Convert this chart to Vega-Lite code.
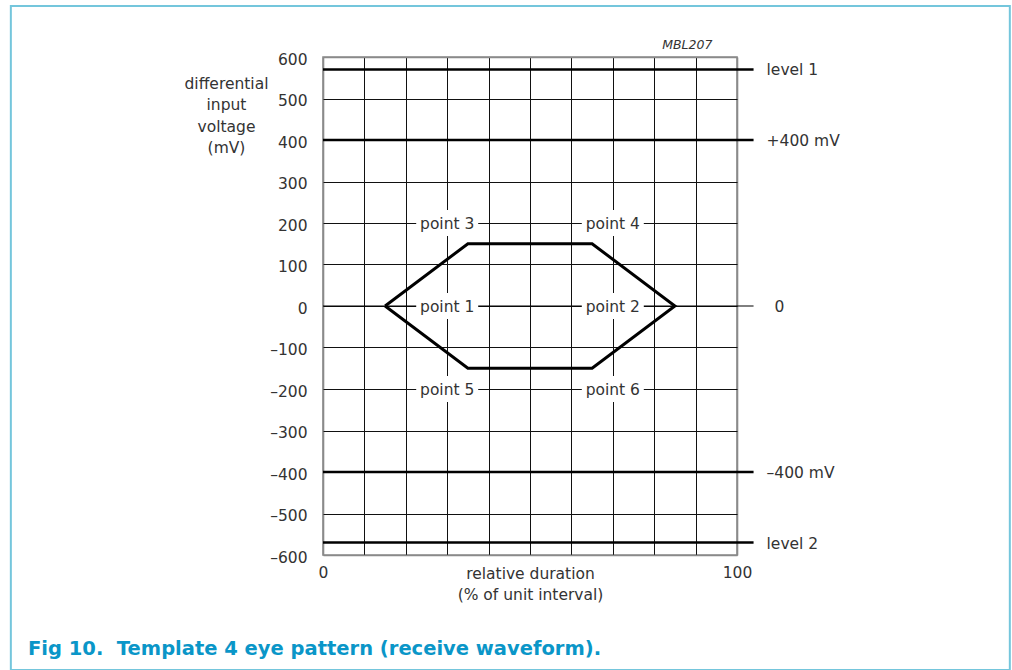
{
  "$schema": "https://vega.github.io/schema/vega-lite/v6.json",
  "width": 414,
  "height": 498,
  "autosize": {"type": "none"},
  "padding": {"left": 323, "top": 57, "right": 275, "bottom": 115},
  "background": "white",
  "config": {
    "view": {"stroke": "#8a8a8a", "strokeWidth": 1.6},
    "font": "DejaVu Sans",
    "text": {"font": "DejaVu Sans", "color": "#333"}
  },
  "title": {
    "text": "Fig 10.\u00a0 Template 4 eye pattern (receive waveform).",
    "orient": "bottom",
    "anchor": "start",
    "frame": "group",
    "dx": -295,
    "offset": -31,
    "fontSize": 19.5,
    "fontWeight": "bold",
    "font": "DejaVu Sans",
    "color": "#0a96c8"
  },
  "datasets": {
    "levels": [
      {"v": 570, "label": "level 1"},
      {"v": 400, "label": "+400 mV"},
      {"v": 0, "label": "0"},
      {"v": -400, "label": "–400 mV"},
      {"v": -570, "label": "level 2"}
    ],
    "hex": [
      {"i": 1, "x": 15, "y": 0},
      {"i": 2, "x": 35, "y": 150},
      {"i": 3, "x": 65, "y": 150},
      {"i": 4, "x": 85, "y": 0},
      {"i": 5, "x": 65, "y": -150},
      {"i": 6, "x": 35, "y": -150},
      {"i": 7, "x": 15, "y": 0}
    ],
    "points": [
      {"x": 30, "y": 200, "label": "point 3"},
      {"x": 70, "y": 200, "label": "point 4"},
      {"x": 30, "y": 0, "label": "point 1"},
      {"x": 70, "y": 0, "label": "point 2"},
      {"x": 30, "y": -200, "label": "point 5"},
      {"x": 70, "y": -200, "label": "point 6"}
    ],
    "ids": [{"id": "MBL207"}]
  },
  "layer": [
    {
      "data": {"name": "hex"},
      "mark": {"type": "line", "stroke": "black", "strokeWidth": 3},
      "encoding": {
        "x": {
          "field": "x", "type": "quantitative",
          "scale": {"domain": [0, 100], "nice": false, "zero": false},
          "axis": {
            "values": [0, 10, 20, 30, 40, 50, 60, 70, 80, 90, 100],
            "labelExpr": "datum.value == 0 || datum.value == 100 ? datum.label : ''",
            "labelFlush": false,
            "labelOverlap": false,
            "labelFontSize": 15.5,
            "labelColor": "#333",
            "labelFont": "DejaVu Sans",
            "labelPadding": 10,
            "ticks": false,
            "domain": false,
            "grid": true,
            "gridColor": {"condition": {"test": "datum.value == 0 || datum.value == 100", "value": "#8a8a8a"}, "value": "#111"},
            "gridWidth": {"condition": {"test": "datum.value == 0 || datum.value == 100", "value": 1.6}, "value": 1},
            "gridOpacity": 1,
            "title": ["relative duration", "(% of unit interval)"],
            "titleFont": "DejaVu Sans",
            "titleFontSize": 15.5,
            "titleFontWeight": "normal",
            "titleColor": "#333",
            "titleAlign": "center",
            "titleBaseline": "top",
            "titleX": 207,
            "titleY": 11,
            "titleLineHeight": 21
          }
        },
        "y": {
          "field": "y", "type": "quantitative",
          "scale": {"domain": [-600, 600], "nice": false, "zero": false},
          "axis": {
            "values": [-600, -500, -400, -300, -200, -100, 0, 100, 200, 300, 400, 500, 600],
            "labelExpr": "datum.value < 0 ? '–' + abs(datum.value) : '' + datum.value",
            "labelFontSize": 15.5,
            "labelColor": "#333",
            "labelFont": "DejaVu Sans",
            "labelPadding": 16,
            "labelOffset": 2,
            "ticks": false,
            "domain": false,
            "grid": true,
            "gridColor": {"condition": {"test": "abs(datum.value) == 600", "value": "#8a8a8a"}, "value": "#111"},
            "gridWidth": {"condition": {"test": "abs(datum.value) == 600", "value": 1.6}, "value": 1},
            "gridOpacity": 1,
            "title": ["differential", "input", "voltage", "(mV)"],
            "titleFont": "DejaVu Sans",
            "titleFontSize": 15.5,
            "titleFontWeight": "normal",
            "titleColor": "#333",
            "titleAngle": 0,
            "titleAlign": "center",
            "titleBaseline": "top",
            "titleX": -97,
            "titleY": 19,
            "titleLineHeight": 21.5
          }
        },
        "order": {"field": "i", "type": "quantitative"}
      }
    },
    {
      "data": {"values": [{"frame": "page"}]},
      "mark": {"type": "rect", "fill": null, "stroke": "#74c6dc", "strokeWidth": 2},
      "encoding": {
        "x": {"datum": -75.4, "type": "quantitative", "scale": {"domain": [0, 100], "nice": false, "zero": false}},
        "x2": {"datum": 165.9},
        "y": {"datum": 722.9, "type": "quantitative", "scale": {"domain": [-600, 600], "nice": false, "zero": false}},
        "y2": {"datum": -877}
      }
    },
    {
      "data": {"name": "levels"},
      "mark": {"type": "rule", "stroke": "black"},
      "encoding": {
        "x": {"datum": 0, "type": "quantitative", "scale": {"domain": [0, 100], "nice": false, "zero": false}},
        "x2": {"datum": 104},
        "y": {"field": "v", "type": "quantitative", "scale": {"domain": [-600, 600], "nice": false, "zero": false}},
        "strokeWidth": {"condition": {"test": "datum.v === 0", "value": 1}, "value": 2.6}
      }
    },
    {
      "data": {"name": "points"},
      "mark": {"type": "rect", "width": 62, "height": 26, "fill": "white"},
      "encoding": {
        "x": {"field": "x", "type": "quantitative", "scale": {"domain": [0, 100], "nice": false, "zero": false}},
        "y": {"field": "y", "type": "quantitative", "scale": {"domain": [-600, 600], "nice": false, "zero": false}}
      }
    },
    {
      "data": {"name": "points"},
      "mark": {"type": "text", "fontSize": 15.5, "align": "center", "baseline": "middle", "dy": 1, "color": "#333"},
      "encoding": {
        "x": {"field": "x", "type": "quantitative", "scale": {"domain": [0, 100], "nice": false, "zero": false}},
        "y": {"field": "y", "type": "quantitative", "scale": {"domain": [-600, 600], "nice": false, "zero": false}},
        "text": {"field": "label"}
      }
    },
    {
      "data": {"name": "levels"},
      "transform": [{"filter": "datum.v !== 0"}],
      "mark": {"type": "text", "fontSize": 15.5, "align": "left", "baseline": "middle", "dx": 13, "dy": 1, "color": "#333"},
      "encoding": {
        "x": {"datum": 104, "type": "quantitative", "scale": {"domain": [0, 100], "nice": false, "zero": false}},
        "y": {"field": "v", "type": "quantitative", "scale": {"domain": [-600, 600], "nice": false, "zero": false}},
        "text": {"field": "label"}
      }
    },
    {
      "data": {"name": "levels"},
      "transform": [{"filter": "datum.v === 0"}],
      "mark": {"type": "text", "fontSize": 15.5, "align": "left", "baseline": "middle", "dx": 21, "dy": 1, "color": "#333"},
      "encoding": {
        "x": {"datum": 104, "type": "quantitative", "scale": {"domain": [0, 100], "nice": false, "zero": false}},
        "y": {"field": "v", "type": "quantitative", "scale": {"domain": [-600, 600], "nice": false, "zero": false}},
        "text": {"field": "label"}
      }
    },
    {
      "data": {"name": "ids"},
      "mark": {"type": "text", "fontSize": 12.5, "fontStyle": "italic", "align": "center", "baseline": "middle", "dy": -12, "color": "#333"},
      "encoding": {
        "x": {"datum": 88, "type": "quantitative", "scale": {"domain": [0, 100], "nice": false, "zero": false}},
        "y": {"datum": 600, "type": "quantitative", "scale": {"domain": [-600, 600], "nice": false, "zero": false}},
        "text": {"field": "id"}
      }
    }
  ]
}
